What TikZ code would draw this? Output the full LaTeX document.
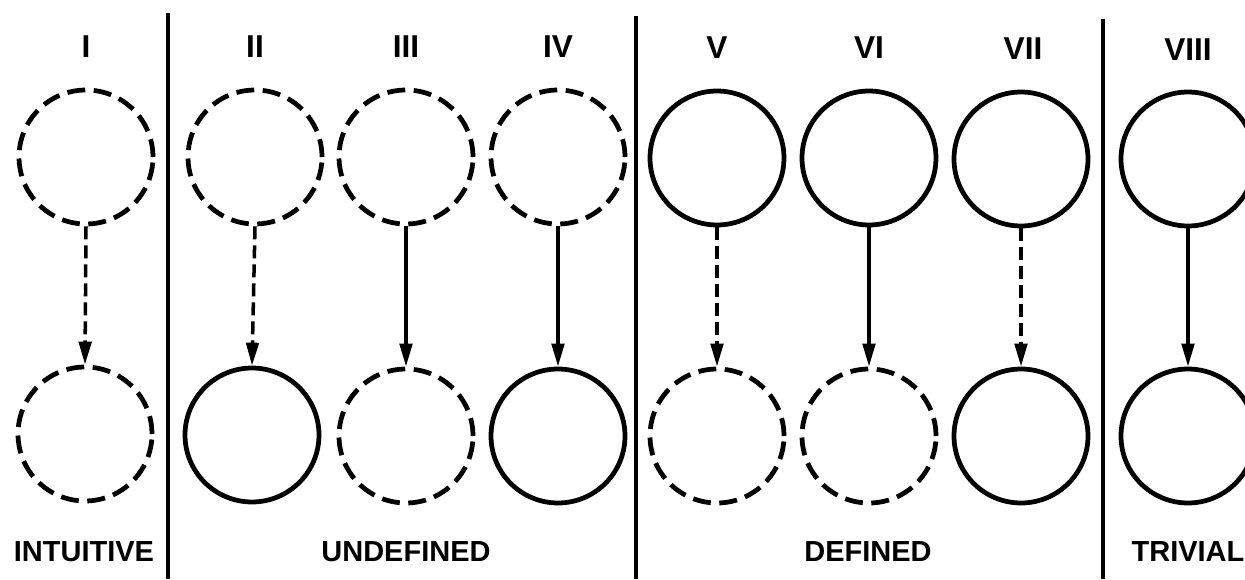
\documentclass[tikz,border=0pt]{standalone}
\usepackage{fontspec}
\setmainfont{Liberation Sans}
\usetikzlibrary{arrows.meta}

\begin{document}
\begin{tikzpicture}[x=0.02cm,y=0.02cm,
	set/.style={circle,draw,line width=2.7pt,minimum size=2.68cm,inner sep=0pt},
	vague/.style={set,dash pattern=on 0.36cm off 0.17cm},
	link/.style={line width=2pt,-{Triangle[length=4.6mm,width=2.5mm]}},
	vaguelink/.style={link,dash pattern=on 0.26cm off 0.12cm},
	numeral/.style={font=\fontsize{18}{21}\selectfont\bfseries},
	category/.style={font=\fontsize{16.5}{19}\selectfont\bfseries},
	divider/.style={line width=2pt}]
	\clip (0,0) rectangle (1245,579);

	% column numbers
	\node[numeral] (nI) at (86,532) {I};
	\node[numeral] (nII) at (255,532) {II};
	\node[numeral] (nIII) at (406,532) {III};
	\node[numeral] (nIV) at (558,532) {IV};
	\node[numeral] (nV) at (717,531) {V};
	\node[numeral] (nVI) at (869,531) {VI};
	\node[numeral] (nVII) at (1023,530) {VII};
	\node[numeral] (nVIII) at (1188,529) {VIII};

	% upper sets
	\node[vague] (tI) at (86,422) {};
	\node[vague] (tII) at (255,422) {};
	\node[vague] (tIII) at (406,422) {};
	\node[vague] (tIV) at (558,422) {};
	\node[set] (tV) at (717,421) {};
	\node[set] (tVI) at (869,421) {};
	\node[set] (tVII) at (1021,420) {};
	\node[set] (tVIII) at (1188,420) {};

	% lower sets
	\node[vague] (bI) at (85,145) {};
	\node[set] (bII) at (252,144) {};
	\node[vague] (bIII) at (406,143) {};
	\node[set] (bIV) at (558,143) {};
	\node[vague] (bV) at (717,143) {};
	\node[vague] (bVI) at (869,143) {};
	\node[set] (bVII) at (1021,143) {};
	\node[set] (bVIII) at (1188,143) {};

	% mappings
	\draw[vaguelink] (tI.south) -- (bI.north);
	\draw[vaguelink] (tII.south) -- (bII.north);
	\draw[link] (tIII.south) -- (bIII.north);
	\draw[link] (tIV.south) -- (bIV.north);
	\draw[vaguelink] (tV.south) -- (bV.north);
	\draw[link] (tVI.south) -- (bVI.north);
	\draw[vaguelink] (tVII.south) -- (bVII.north);
	\draw[link] (tVIII.south) -- (bVIII.north);

	% group rules
	\draw[divider] (168,566) -- (168,0);
	\draw[divider] (636,563) -- (636,0);
	\draw[divider] (1103,560) -- (1103,0);

	\node[category] (intuitive) at (84,27) {INTUITIVE};
	\node[category] (undefined) at (406,27) {UNDEFINED};
	\node[category] (defined) at (868,27) {DEFINED};
	\node[category] (trivial) at (1188,27) {TRIVIAL};
\end{tikzpicture}
\end{document}
